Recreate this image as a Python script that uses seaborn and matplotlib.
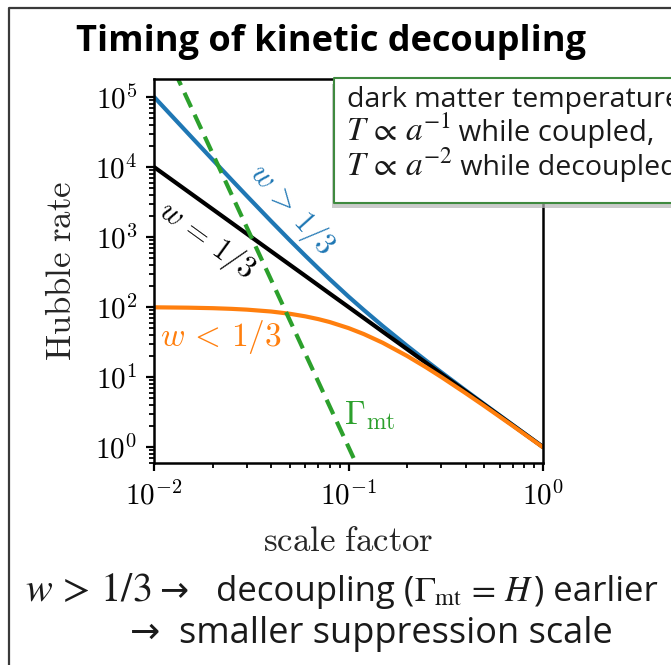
import matplotlib
matplotlib.use("Agg")
import matplotlib.pyplot as plt
from matplotlib.patches import Rectangle
from matplotlib.lines import Line2D
from matplotlib.ticker import LogLocator, NullFormatter
import numpy as np
import pandas as pd
import seaborn as sns

# Hubble rate versus scale factor for three equations of state,
# plus the momentum-transfer rate (dashed).
scale_factor = [0.01, 0.015, 0.02, 0.025, 0.03, 0.04, 0.05, 0.06, 0.07, 0.08,
                0.1, 0.12, 0.15, 0.2, 0.25, 0.3, 0.4, 0.5, 0.7, 1.0]
hubble_w_gt = [1.005e5, 3.0e4, 1.275e4, 6597, 3867, 1683, 894, 540, 356, 250,
               141, 90.4, 53.4, 27.9, 17.2, 11.7, 6.44, 4.08, 2.06, 1.0]
hubble_w_eq = [1.0e4, 4444, 2500, 1600, 1111, 625, 400, 278, 204, 156,
               100, 69.4, 44.4, 25.0, 16.0, 11.1, 6.25, 4.0, 2.04, 1.0]
hubble_w_lt = [99.0, 97.8, 96.2, 94.1, 91.7, 86.2, 80.0, 73.5, 67.1, 61.0,
               50.0, 41.0, 30.8, 20.0, 13.8, 10.0, 5.88, 3.85, 2.0, 0.99]
gamma_a = [0.01, 0.12]
gamma_mt = [1.0e6, 0.335]

x_ticks = [1e-2, 1e-1, 1e0]
x_tick_labels = [r"$10^{-2}$", r"$10^{-1}$", r"$10^{0}$"]
y_ticks = [1e0, 1e1, 1e2, 1e3, 1e4, 1e5]
y_tick_labels = [r"$10^{0}$", r"$10^{1}$", r"$10^{2}$", r"$10^{3}$", r"$10^{4}$", r"$10^{5}$"]

BLUE, ORANGE, GREEN = "#1f77b4", "#ff7f0e", "#2ca02c"
SANS = ["Open Sans", "DejaVu Sans"]
W, H = 671, 665

sns.set_theme(style="ticks")
plt.rcParams["font.family"] = SANS
plt.rcParams["mathtext.fontset"] = "cm"

fig = plt.figure(figsize=(W / 100, H / 100), dpi=100)
fig.patch.set_facecolor("white")


def fx(px):
    return px / W


def fy(py):
    return 1 - py / H


def rect_px(x0, y0, x1, y1, **kw):
    """Filled rectangle given by pixel corners (top-left origin)."""
    r = Rectangle((fx(x0), fy(y1)), (x1 - x0) / W, (y1 - y0) / H,
                  transform=fig.transFigure, **kw)
    fig.add_artist(r)
    return r


def line_px(xs, ys, **kw):
    ln = Line2D([fx(v) for v in xs], [fy(v) for v in ys],
                transform=fig.transFigure, solid_capstyle="projecting", **kw)
    fig.add_artist(ln)
    return ln


ax = fig.add_axes([fx(154), fy(463), (543 - 154) / W, (463 - 79) / H])
ax.set_facecolor("white")

curves = pd.DataFrame({
    "a": scale_factor,
    "w_gt": hubble_w_gt,
    "w_eq": hubble_w_eq,
    "w_lt": hubble_w_lt,
})
gamma = pd.DataFrame({"a": gamma_a, "rate": gamma_mt})

lw = 3.0
sns.lineplot(data=curves, x="a", y="w_gt", color=BLUE, lw=lw, ax=ax)
sns.lineplot(data=curves, x="a", y="w_eq", color="black", lw=lw, ax=ax)
sns.lineplot(data=curves, x="a", y="w_lt", color=ORANGE, lw=lw, ax=ax)
sns.lineplot(data=gamma, x="a", y="rate", color=GREEN, lw=lw, ax=ax)
ax.lines[-1].set_dashes((3.8, 2.0))

ax.set_xscale("log")
ax.set_yscale("log")
ax.set_xlim(1e-2, 1e0)
ax.set_ylim(10 ** (-16 / 70), 10 ** (5 + 18 / 70))

ax.set_xticks(x_ticks, labels=x_tick_labels)
ax.set_yticks(y_ticks, labels=y_tick_labels)
ax.xaxis.set_minor_locator(LogLocator(base=10, subs=np.arange(2, 10)))
ax.yaxis.set_minor_locator(LogLocator(base=10, subs=np.arange(2, 10), numticks=20))
ax.xaxis.set_minor_formatter(NullFormatter())
ax.yaxis.set_minor_formatter(NullFormatter())
ax.tick_params(which="major", direction="out", length=6, width=1.6,
               labelsize=21, colors="black", pad=6)
ax.tick_params(axis="x", which="major", pad=8)
ax.tick_params(which="minor", direction="out", length=3.5, width=1.3,
               colors="black")
for s in ax.spines.values():
    s.set_linewidth(1.8)
    s.set_color("black")

ax.set_xlabel(r"$\mathrm{scale\ factor}$", fontsize=25, labelpad=10)
ax.set_ylabel(r"$\mathrm{Hubble\ rate}$", fontsize=25, labelpad=12)

# curve labels
ax.text(0.0187, 906, r"$w\,=\,1/3$", color="black", fontsize=22,
        rotation=-36, ha="center", va="center")
ax.text(0.0512, 2.5e3, r"$w\,>\,1/3$", color=BLUE, fontsize=22,
        rotation=-48, ha="center", va="center")
ax.text(0.0107, 37, r"$w\,<\,1/3$", color=ORANGE, fontsize=24,
        ha="left", va="center")
ax.text(0.0948, 2.8, r"$\Gamma_{\mathrm{mt}}$", color=GREEN, fontsize=24,
        ha="left", va="center")

# slide frame (left and top edges)
line_px([9, 9, 700], [700, 8, 8], color="#3a3a3a", lw=1.6, zorder=10)

fig.text(fx(331), fy(51), "Timing of kinetic decoupling", fontsize=26,
         fontweight="bold", ha="center", va="baseline", color="black")

# note box with drop shadow
rect_px(332, 84, 700, 208, fc="#b5b5b5", ec="none", alpha=0.7, zorder=5)
rect_px(334, 78, 700, 203, fc="white", ec="none", zorder=6)
line_px([700, 334, 334, 700], [78, 78, 203, 203], color="#3f8a3f", lw=1.5,
        zorder=6.5)

renderer = fig.canvas.get_renderer()


def chain(x_px, y_px, parts, **common):
    """Place text pieces one after another along a shared baseline."""
    x = fx(x_px)
    for text, size in parts:
        t = fig.text(x, fy(y_px), text, fontsize=size, ha="left",
                     va="baseline", **common)
        x = t.get_window_extent(renderer).x1 / W


box_kw = dict(color="#1a1a1a", math_fontfamily="stix", zorder=7)
chain(347, 107, [("dark matter temperature", 20.5)], **box_kw)
chain(346, 141, [(r"$T\,\propto\,a^{-1}$", 24), (" while coupled,", 21)],
      **box_kw)
chain(346, 175, [(r"$T\,\propto\,a^{-2}$", 24), (" while decoupled", 20.5)],
      **box_kw)

# conclusion lines
bottom_kw = dict(color="#1a1a1a", math_fontfamily="stix")
chain(25, 601, [(r"$w\,>\,1/3$", 29), (" →   decoupling (", 25),
                (r"$\Gamma_{\mathrm{mt}}\,=\,H$", 25), (") earlier", 25)],
      **bottom_kw)
chain(130, 643, [("→  smaller suppression scale", 26)], **bottom_kw)

fig.savefig("out.png", dpi=100)
